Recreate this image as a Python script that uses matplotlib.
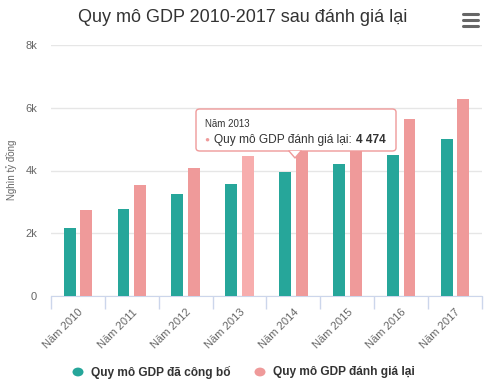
import matplotlib.pyplot as plt
import numpy as np
from matplotlib.patches import FancyBboxPatch, Polygon, Circle
from matplotlib.lines import Line2D

plt.rcParams['font.family'] = ['Liberation Sans', 'DejaVu Sans']

years = ["Năm 2010", "Năm 2011", "Năm 2012", "Năm 2013",
         "Năm 2014", "Năm 2015", "Năm 2016", "Năm 2017"]
gdp_published = [2158, 2780, 3245, 3584, 3938, 4193, 4503, 5007]
gdp_revised = [2739, 3540, 4073, 4474, 4938, 5192, 5639, 6294]
series_names = ["Quy mô GDP đã công bố", "Quy mô GDP đánh giá lại"]
y_ticks = [0, 2000, 4000, 6000, 8000]
y_tick_labels = ["0", "2k", "4k", "6k", "8k"]

teal = "#26a69a"
pink = "#ef9a9a"
pink_hover = "#f7adad"

W, H = 485, 389
fig = plt.figure(figsize=(W / 100, H / 100), dpi=100)

def fx(px):
    return px / W

def fy(py):
    return 1 - py / H

ax = fig.add_axes([fx(51), fy(296), fx(482) - fx(51), fy(45) - fy(296)])
x = np.arange(len(years))
w = 0.22
off = 0.155
ax.bar(x - off, gdp_published, w, color=teal, zorder=3)
rev_colors = [pink] * len(years)
rev_colors[3] = pink_hover
ax.bar(x + off, gdp_revised, w, color=rev_colors, zorder=3)

ax.set_xlim(-0.5, len(years) - 0.5)
ax.set_ylim(0, 8000)
ax.set_yticks(y_ticks)
ax.set_yticklabels(y_tick_labels, color="#666666", fontsize=8)
ax.tick_params(axis="y", length=0, pad=10)
ax.grid(axis="y", color="#e6e6e6", linewidth=1, zorder=0)
for s in ["top", "right", "left"]:
    ax.spines[s].set_visible(False)
ax.spines["bottom"].set_color("#ccd6eb")

# category boundary ticks
ax.set_xticks(np.arange(len(years) + 1) - 0.5, minor=True)
ax.tick_params(axis="x", which="minor", length=9, color="#ccd6eb", width=1)
ax.set_xticks(x)
ax.set_xticklabels(years, rotation=45, ha="right", va="top",
                   rotation_mode="anchor", color="#666666", fontsize=8)
ax.tick_params(axis="x", which="major", length=0, pad=8)

fig.text(fx(12), fy(170), "Nghìn tỷ đồng", rotation=90, ha="center",
         va="center", color="#666666", fontsize=7)

fig.text(0.5, fy(17), "Quy mô GDP 2010-2017 sau đánh giá lại",
         ha="center", va="center", fontsize=13, color="#333333")

# menu icon
for yy in [14, 20, 26]:
    fig.add_artist(Line2D([fx(463), fx(478)], [fy(yy), fy(yy)],
                          color="#666666", linewidth=2.2, solid_capstyle="round"))

# tooltip
bx0, bx1, by0, by1 = 196, 396, 109, 151
box = FancyBboxPatch((fx(bx0), fy(by1)), fx(bx1) - fx(bx0), fy(by0) - fy(by1),
                     boxstyle="round,pad=0,rounding_size=0.008",
                     transform=fig.transFigure, facecolor="white",
                     edgecolor=pink, linewidth=1, zorder=10)
fig.add_artist(box)
ax_x, tip = 295, 158
tri = Polygon([[fx(ax_x - 6), fy(by1)], [fx(ax_x), fy(tip)], [fx(ax_x + 6), fy(by1)]],
              closed=True, transform=fig.transFigure, facecolor="white",
              edgecolor="none", zorder=11)
fig.add_artist(tri)
fig.add_artist(Line2D([fx(ax_x - 6), fx(ax_x), fx(ax_x + 6)],
                      [fy(by1), fy(tip), fy(by1)], color=pink, linewidth=1, zorder=12))
fig.text(fx(205), fy(124), "Năm 2013", fontsize=7, color="#333333",
         va="center", zorder=13)
fig.text(fx(204), fy(140), "●", fontsize=6, color=pink, va="center", zorder=13)
t1 = fig.text(fx(214), fy(140), "Quy mô GDP đánh giá lại:", fontsize=8.6,
              color="#333333", va="center", zorder=13)
fig.canvas.draw()
ext = t1.get_window_extent()
fig.text(ext.x1 / W + fx(4), fy(140), "4 474", fontsize=8.6, color="#333333",
         fontweight="bold", va="center", zorder=13)

# legend
for cx, col, label, tx in [(78, teal, series_names[0], 91), (260, pink, series_names[1], 273)]:
    fig.add_artist(Circle((fx(cx), fy(372)), 5.5 / W, transform=fig.transFigure,
                          facecolor=col, edgecolor="none"))
    fig.text(fx(tx), fy(372), label, fontsize=8.6, fontweight="bold",
             color="#333333", va="center")

fig.savefig("out.png", dpi=100)
